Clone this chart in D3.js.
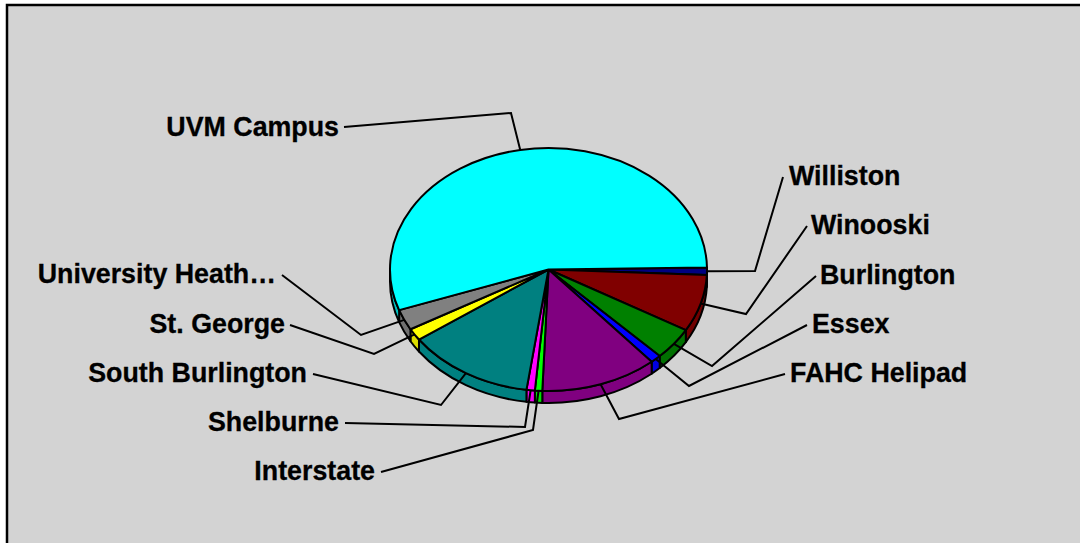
<!DOCTYPE html>
<html>
<head>
<meta charset="utf-8">
<script src="https://cdn.jsdelivr.net/npm/d3@7"></script>
<style>
  html, body { margin: 0; padding: 0; background: #fff; overflow: hidden; }
  svg { display: block; }
  text { font-family: "Liberation Sans", Arial, sans-serif; font-weight: bold; font-size: 26.8px; fill: #000; stroke: #000; stroke-width: 0.3px; }
</style>
</head>
<body>
<div id="chart"></div>
<script>
// clockwise from the 3 o'clock edge, share of total in percent
const categories = ["Williston", "Winooski", "Burlington", "Essex", "FAHC Helipad", "Interstate",
    "Shelburne", "South Burlington", "St. George", "University Heath\u2026", "UVM Campus"];
const values = [1.0, 7.6, 4.3, 1.1, 11.9, 0.75, 0.85, 13.0, 1.6, 2.75, 55.15];

const topColours = ["#000080", "#800000", "#008000", "#0000ff", "#800080", "#00ff00",
    "#ff00ff", "#008080", "#ffff00", "#808080", "#00ffff"];
const sideColours = ["#000070", "#700000", "#007000", "#0000e0", "#800080", "#00e000",
    "#f000f0", "#008080", "#dcdc00", "#707070", "#00c0c0"];

// label anchor, label x/y and the elbow of each leader line
const labelAnchor = ["start", "start", "start", "start", "start", "end", "end", "end", "end", "end", "end"];
const labelX = [789, 811, 820, 812, 790, 375, 339, 307, 285, 276, 339];
const labelY = [185, 234, 284, 333, 382, 480, 431, 382, 333, 283, 136];
const leaderEndX = [783, 807, 816, 807, 785, 381, 345, 313, 290, 282, 344];
const leaderEndY = [177, 226, 276, 325, 374, 472, 423, 374, 325, 275, 127];
const elbowX = [755, 746, 712, 689, 619, 533, 525, 441, 374, 361, 511];
const elbowY = [271, 314, 366, 386, 419, 430, 427, 405, 354, 335, 113];

const width = 1080, height = 543;
const cx = 548.5, cy = 269.5, rx = 158.5, ry = 121.5, depth = 12;
const startAngle = 89 * Math.PI / 180;

const xscale = d3.scaleLinear().domain([-1, 1]).range([cx - rx, cx + rx]);
const yscale = d3.scaleLinear().domain([-1, 1]).range([cy - ry, cy + ry]);

const rimX = a => xscale(Math.sin(a));
const rimY = a => yscale(-Math.cos(a));

const pie = d3.pie().sort(null).startAngle(startAngle).endAngle(startAngle + 2 * Math.PI);
const slices = pie(values);

function topPath(d) {
    const large = (d.endAngle - d.startAngle) > Math.PI ? 1 : 0;
    return `M${cx},${cy}L${rimX(d.startAngle)},${rimY(d.startAngle)}`
        + `A${rx},${ry} 0 ${large} 1 ${rimX(d.endAngle)},${rimY(d.endAngle)}Z`;
}

// only the part of the rim between 3 and 9 o'clock shows a wall
function wallPath(d) {
    const a0 = Math.max(d.startAngle, Math.PI / 2);
    const a1 = Math.min(d.endAngle, 3 * Math.PI / 2);
    if (a1 <= a0) return "";
    return `M${rimX(a0)},${rimY(a0)}A${rx},${ry} 0 0 1 ${rimX(a1)},${rimY(a1)}`
        + `L${rimX(a1)},${rimY(a1) + depth}A${rx},${ry} 0 0 0 ${rimX(a0)},${rimY(a0) + depth}Z`;
}

const svg = d3.select("#chart").append("svg")
    .attr("width", width)
    .attr("height", height);

svg.append("rect")
    .attr("x", 7)
    .attr("y", 5)
    .attr("width", width + 20)
    .attr("height", height + 20)
    .attr("fill", "#d3d3d3")
    .attr("stroke", "#000")
    .attr("stroke-width", 2.5);

svg.append("g").selectAll("path")
    .data(slices)
    .join("path")
    .attr("d", wallPath)
    .attr("fill", (d, i) => sideColours[i])
    .attr("stroke", "#000")
    .attr("stroke-width", 2)
    .attr("stroke-linejoin", "round");

svg.append("g").selectAll("path")
    .data(slices)
    .join("path")
    .attr("d", topPath)
    .attr("fill", (d, i) => topColours[i])
    .attr("stroke", "#000")
    .attr("stroke-width", 2)
    .attr("stroke-linejoin", "round");

svg.append("g").selectAll("path")
    .data(slices)
    .join("path")
    .attr("d", (d, i) => {
        const mid = (d.startAngle + d.endAngle) / 2;
        return `M${rimX(mid)},${rimY(mid)}L${elbowX[i]},${elbowY[i]}L${leaderEndX[i]},${leaderEndY[i]}`;
    })
    .attr("fill", "none")
    .attr("stroke", "#000")
    .attr("stroke-width", 2);

svg.append("g").selectAll("text")
    .data(categories)
    .join("text")
    .attr("x", (d, i) => labelX[i])
    .attr("y", (d, i) => labelY[i])
    .attr("text-anchor", (d, i) => labelAnchor[i])
    .text(d => d);
</script>
</body>
</html>
